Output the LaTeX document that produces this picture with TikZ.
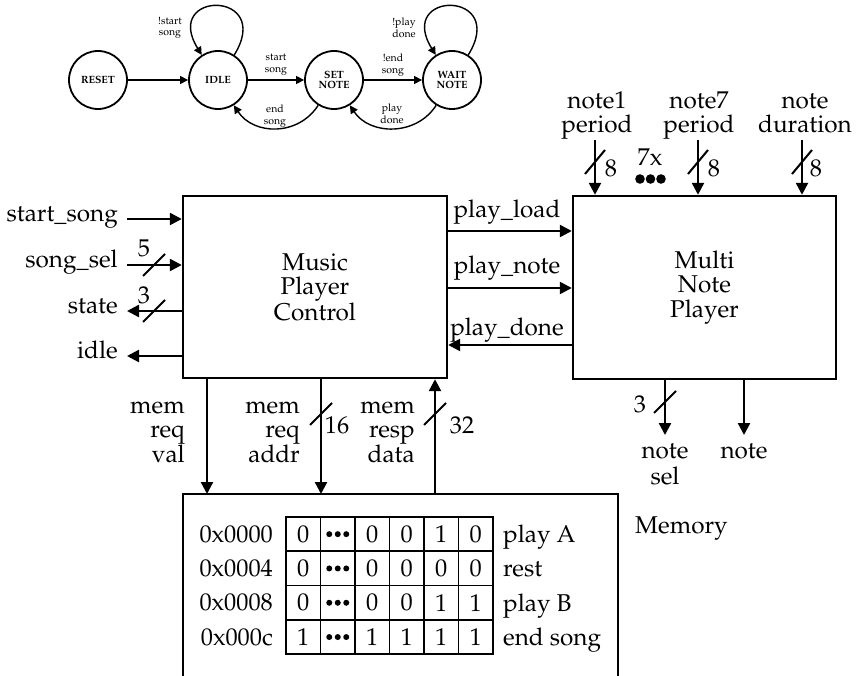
\documentclass[tikz,border=0pt]{standalone}
\usepackage[T1]{fontenc}
\renewcommand\rmdefault{ppl}
\usetikzlibrary{arrows.meta,calc}

\newcommand\diagfont{\fontsize{24.3}{24.3}\selectfont}
\newcommand\statefont{\bfseries\fontsize{10.5}{10}\selectfont}
\newcommand\edgefont{\fontsize{10.5}{11.5}\selectfont}

\tikzset{
  blockbox/.style={draw, line width=2.4pt, inner sep=0pt, align=center, font=\diagfont},
  wire/.style={line width=2.4pt, -{Triangle[length=12pt,width=12pt]}},
  busmark/.style={line width=2pt},
  lbl/.style={inner sep=0pt, font=\diagfont},
  state/.style={draw, circle, line width=1.8pt, minimum size=58pt, inner sep=0pt, align=center, font=\statefont},
  trans/.style={line width=1.4pt, -{Triangle[length=8pt,width=8pt]}},
  translbl/.style={inner sep=0pt, align=center, font=\edgefont},
  cellbox/.style={draw, line width=1.7pt, minimum width=34.5pt, minimum height=34.3pt, inner sep=0pt, font=\diagfont}
}

\begin{document}
\begin{tikzpicture}[x=1pt,y=-1pt]
\useasboundingbox[fill=white] (0,0) rectangle (859,676);

% ---------------- state machine ----------------
\node[state] (reset) at (98,80) {RESET};
\node[state] (idle)  at (218,80) {IDLE};
\node[state] (setn)  at (334,80) {SET\\NOTE};
\node[state] (waitn) at (452,80) {WAIT\\NOTE};

\draw[trans] (reset) -- (idle);
\draw[trans] (idle) -- (setn);
\draw[trans] (setn) -- (waitn);
\draw[trans] (setn.-122) .. controls +(-20,31) and +(20,30) .. (idle.-58);
\draw[trans] (waitn.-122) .. controls +(-20,31) and +(20,30) .. (setn.-58);
\draw[trans] (idle.57) .. controls +(40,-65) and +(-40,-65) .. (idle.123);
\draw[trans] (waitn.57) .. controls +(40,-65) and +(-40,-65) .. (waitn.123);

\node[translbl] (t1) at (170,28)  {!start\\song};
\node[translbl] (t2) at (276,65)  {start\\song};
\node[translbl] (t3) at (393,65)  {!end\\song};
\node[translbl] (t4) at (275,116) {end\\song};
\node[translbl] (t5) at (392,114) {play\\done};
\node[translbl] (t6) at (404,28)  {!play\\done};

% ---------------- blocks ----------------
\node[blockbox, minimum width=264pt, minimum height=182pt] (mpc) at (315,287) {Music\\Player\\Control};
\node[blockbox, minimum width=263pt, minimum height=183pt] (mnp) at (704.5,287.5) {Multi\\Note\\Player};
\node[minimum width=435pt, minimum height=220pt, inner sep=0pt, anchor=north] (mem) at (400.5,494) {};
\draw[line width=2.4pt] (mem.south west) -- (mem.north west) -- (mem.north east) -- (mem.south east);
\node[lbl, anchor=base west] (memlbl) at (635,533) {Memory};

% ---------------- control inputs / outputs ----------------
\coordinate (ss)  at (127,219);
\coordinate (sel) at (127,265);
\coordinate (st)  at (127,311);
\coordinate (id)  at (127,356);
\draw[wire] (ss) -- (ss -| mpc.west);
\draw[wire] (sel) -- (sel -| mpc.west);
\draw[wire] (st -| mpc.west) -- (st);
\draw[wire] (id -| mpc.west) -- (id);
\draw[busmark] (154,265) ++(-11,11) -- ++(22,-22);
\draw[busmark] (154,311) ++(-11,11) -- ++(22,-22);
\node[lbl, anchor=mid east] (ssl)  at (118,219) {start\_song};
\node[lbl, anchor=mid east] (sell) at (118,265) {song\_sel};
\node[lbl, anchor=mid east] (stl)  at (118,311) {state};
\node[lbl, anchor=mid east] (idl)  at (118,356) {idle};
\node[lbl] (w5) at (144,248) {5};
\node[lbl] (w3a) at (144,295) {3};

% ---------------- control <-> player ----------------
\coordinate (pl) at (510,231);
\coordinate (pn) at (510,288);
\coordinate (pd) at (510,345);
\draw[wire] (pl -| mpc.east) -- (pl -| mnp.west);
\draw[wire] (pn -| mpc.east) -- (pn -| mnp.west);
\draw[wire] (pd -| mnp.west) -- (pd -| mpc.east);
\node[lbl, anchor=base] (pll) at (507,218) {play\_load};
\node[lbl, anchor=base] (pnl) at (507,274) {play\_note};
\node[lbl, anchor=base] (pdl) at (507,335) {play\_done};

% ---------------- player inputs ----------------
\coordinate (in1) at (595,140);
\coordinate (in7) at (698,140);
\coordinate (indur) at (802,140);
\draw[wire] (in1) -- (in1 |- mnp.north);
\draw[wire] (in7) -- (in7 |- mnp.north);
\draw[wire] (indur) -- (indur |- mnp.north);
\draw[busmark] (595,162) ++(-10,12) -- ++(20,-24);
\draw[busmark] (698,162) ++(-10,12) -- ++(20,-24);
\draw[busmark] (802,162) ++(-10,12) -- ++(20,-24);
\node[lbl, align=center, anchor=south] (l1) at (597,140) {note1\\period\strut};
\node[lbl, align=center, anchor=south] (l7) at (699,140) {note7\\period\strut};
\node[lbl, align=center, anchor=south] (ld) at (805,140) {note\\duration\strut};
\node[lbl] (w8a) at (611,168) {8};
\node[lbl] (w8b) at (714,168) {8};
\node[lbl] (w8c) at (816,168) {8};
\node[lbl, anchor=base] (seven) at (650,166) {7x};
\foreach \dx in {640,650.5,661} \fill (\dx,179) circle (4.8);

% ---------------- player outputs ----------------
\coordinate (nsx) at (665,435);
\coordinate (nx)  at (744,435);
\draw[wire] (nsx |- mnp.south) -- (nsx);
\draw[wire] (nx |- mnp.south) -- (nx);
\draw[busmark] (665,402) ++(-11,11) -- ++(22,-22);
\node[lbl] (w3b) at (640,404) {3};
\node[lbl, align=center, anchor=north] (nsl) at (665,441) {\strut note\\sel};
\node[lbl, align=center, anchor=north] (nl)  at (744,441) {\strut note};

% ---------------- memory interface ----------------
\coordinate (rv) at (207,436);
\coordinate (ra) at (321,436);
\coordinate (rd) at (435,436);
\draw[wire] (rv |- mpc.south) -- (rv |- mem.north);
\draw[wire] (ra |- mpc.south) -- (ra |- mem.north);
\draw[wire] (rd |- mem.north) -- (rd |- mpc.south);
\draw[busmark] (321,414) ++(-11,11) -- ++(22,-22);
\draw[busmark] (435,414) ++(-11,11) -- ++(22,-22);
\node[lbl] (w16) at (337,425) {16};
\node[lbl] (w32) at (462,425) {32};
\node[lbl, align=right, anchor=north east] (rvl) at (185,396) {\strut mem\\req\\val};
\node[lbl, align=right, anchor=north east] (ral) at (300,396) {\strut mem\\req\\addr};
\node[lbl, align=right, anchor=north east] (rdl) at (415,396) {\strut mem\\resp\\data};

% ---------------- memory contents ----------------
\foreach \r/\a/\b/\c/\d/\e/\addr/\lab in {
    0/0/0/0/1/0/0x0000/play A,
    1/0/0/0/0/0/0x0004/rest,
    2/0/0/0/1/1/0x0008/play B,
    3/1/1/1/1/1/0x000c/end song}{
  \pgfmathsetmacro\yy{534.15+34.3*\r}
  \pgfmathsetmacro\yb{\yy+8.4}
  \node[cellbox] (c\r-0) at (303.25,\yy) {\a};
  \node[cellbox] (c\r-1) at (337.75,\yy) {};
  \node[cellbox] (c\r-2) at (372.25,\yy) {\b};
  \node[cellbox] (c\r-3) at (406.75,\yy) {\c};
  \node[cellbox] (c\r-4) at (441.25,\yy) {\d};
  \node[cellbox] (c\r-5) at (475.75,\yy) {\e};
  \foreach \dx in {-8.5,0,8.5} \fill ($(c\r-1.center)+(\dx,0)$) circle (3);
  \node[lbl, anchor=east] (a\r) at (273,\yy) {\addr};
  \node[lbl, anchor=base west] (m\r) at (503,\yb) {\lab};
}
\end{tikzpicture}
\end{document}
